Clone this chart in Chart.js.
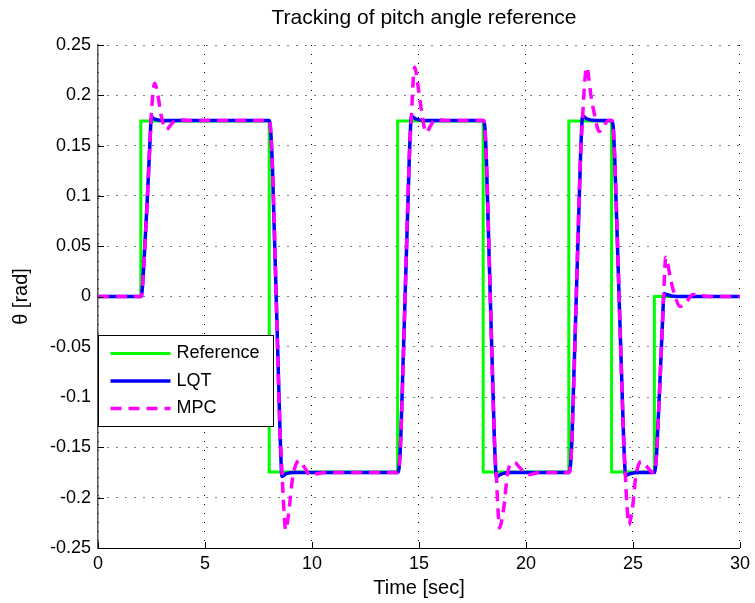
<!DOCTYPE html>
<html>
<head>
  <script src="https://cdn.jsdelivr.net/npm/chart.js"></script>
  <title>Tracking of pitch angle reference</title>
  <style>
    html, body { margin: 0; padding: 0; background: #fff; }
    #wrap { width: 755px; height: 603px; }
  </style>
</head>
<body>
<div id="wrap"><canvas id="pitchChart" width="755" height="603"></canvas></div>
<script>
// reference step command (rad)
const refTime  = [0, 2, 2, 8, 8, 14, 14, 18, 18, 22, 22, 24, 24, 26, 26, 30];
const refTheta = [0, 0, 0.1745, 0.1745, -0.1745, -0.1745, 0.1745, 0.1745, -0.1745, -0.1745, 0.1745, 0.1745, -0.1745, -0.1745, 0, 0];

// LQT response
const lqtTime  = [0, 2.0, 2.05, 2.15, 2.3, 2.42, 2.5, 2.58, 2.7, 3.0,
                  8.0, 8.05, 8.15, 8.5, 8.6, 8.68, 8.8, 9.2,
                  14.0, 14.07, 14.15, 14.55, 14.65, 14.75, 14.9, 15.3,
                  18.0, 18.07, 18.15, 18.52, 18.62, 18.72, 18.9, 19.3,
                  22.0, 22.07, 22.15, 22.55, 22.65, 22.75, 22.9, 23.3,
                  24.0, 24.07, 24.15, 24.56, 24.66, 24.76, 24.9, 25.3,
                  26.0, 26.05, 26.12, 26.38, 26.45, 26.55, 27.0, 30];
const lqtTheta = [0, 0, 0.003, 0.035, 0.095, 0.15, 0.179, 0.177, 0.176, 0.175,
                  0.175, 0.17, 0.13, -0.13, -0.179, -0.178, -0.176, -0.175,
                  -0.175, -0.17, -0.14, 0.14, 0.179, 0.178, 0.176, 0.175,
                  0.175, 0.17, 0.135, -0.14, -0.18, -0.178, -0.176, -0.175,
                  -0.175, -0.17, -0.14, 0.14, 0.18, 0.178, 0.176, 0.175,
                  0.175, 0.17, 0.135, -0.14, -0.178, -0.177, -0.176, -0.175,
                  -0.175, -0.17, -0.15, -0.025, 0.003, 0.002, 0, 0];

// MPC response
const mpcTime  = [0, 2.0, 2.05, 2.15, 2.3, 2.42, 2.52, 2.65, 2.8, 2.95, 3.2, 3.45, 3.75, 4.2,
                  8.0, 8.05, 8.15, 8.5, 8.6, 8.68, 8.77, 8.85, 8.95, 9.07, 9.2, 9.4, 9.65, 9.94, 10.3, 10.7,
                  14.0, 14.07, 14.15, 14.55, 14.65, 14.73, 14.8, 14.95, 15.1, 15.33, 15.55, 15.75, 16.2,
                  18.0, 18.07, 18.15, 18.52, 18.62, 18.7, 18.77, 18.87, 18.98, 19.13, 19.3, 19.47, 19.7, 20.17, 20.6,
                  22.0, 22.07, 22.15, 22.55, 22.65, 22.75, 22.85, 22.93, 23.02, 23.19, 23.42, 23.65, 23.85,
                  24.0, 24.07, 24.15, 24.56, 24.66, 24.73, 24.81, 24.9, 25.0, 25.1, 25.22, 25.38, 25.6, 25.85,
                  26.0, 26.05, 26.12, 26.38, 26.45, 26.53, 26.62, 26.75, 26.9, 27.2, 27.5, 27.8, 28.2, 28.6, 30];
const mpcTheta = [0, 0, 0.003, 0.035, 0.095, 0.15, 0.19, 0.212, 0.2, 0.18, 0.166, 0.172, 0.176, 0.175,
                  0.175, 0.17, 0.13, -0.13, -0.175, -0.21, -0.232, -0.225, -0.208, -0.184, -0.17, -0.163, -0.17, -0.178, -0.176, -0.175,
                  -0.175, -0.17, -0.14, 0.14, 0.18, 0.215, 0.228, 0.21, 0.187, 0.163, 0.17, 0.176, 0.175,
                  0.175, 0.17, 0.135, -0.14, -0.18, -0.215, -0.23, -0.222, -0.207, -0.177, -0.166, -0.165, -0.17, -0.177, -0.175,
                  -0.175, -0.17, -0.14, 0.14, 0.18, 0.215, 0.228, 0.218, 0.202, 0.182, 0.164, 0.17, 0.175,
                  0.175, 0.17, 0.135, -0.14, -0.185, -0.212, -0.227, -0.22, -0.206, -0.184, -0.17, -0.164, -0.168, -0.174,
                  -0.175, -0.17, -0.15, -0.025, 0.01, 0.039, 0.033, 0.018, 0.005, -0.01, -0.005, 0.002, 0.001, 0, 0];

const xTicks = [0, 5, 10, 15, 20, 25, 30];
const yTicks = [-0.25, -0.2, -0.15, -0.1, -0.05, 0, 0.05, 0.1, 0.15, 0.2, 0.25];
const yTickLabels = ['-0.25', '-0.2', '-0.15', '-0.1', '-0.05', '0', '0.05', '0.1', '0.15', '0.2', '0.25'];

const chartTitle = 'Tracking of pitch angle reference';
const FONT = 'Liberation Sans, Arial, Helvetica, sans-serif';

function pts(t, v) {
  return t.map((x, i) => ({ x: x, y: v[i] }));
}

// inward tick marks on the left and bottom axes, like matlab
const innerTicks = {
  id: 'innerTicks',
  afterDatasetsDraw(chart) {
    const { ctx, chartArea: a, scales: { x, y } } = chart;
    ctx.save();
    ctx.strokeStyle = '#000';
    ctx.lineWidth = 1;
    ctx.beginPath();
    xTicks.forEach(v => {
      const px = Math.round(x.getPixelForValue(v)) + 0.5;
      ctx.moveTo(px, a.bottom); ctx.lineTo(px, a.bottom - 6);
    });
    yTicks.forEach(v => {
      const py = Math.round(y.getPixelForValue(v)) + 0.5;
      ctx.moveTo(a.left, py); ctx.lineTo(a.left + 6, py);
    });
    ctx.stroke();
    ctx.restore();
  }
};

// title centred over the plot area, not the whole canvas
const plotTitle = {
  id: 'plotTitle',
  afterDraw(chart) {
    const { ctx, chartArea: a } = chart;
    ctx.save();
    ctx.fillStyle = '#000';
    ctx.font = '21px ' + FONT;
    ctx.textAlign = 'center';
    ctx.textBaseline = 'middle';
    ctx.fillText(chartTitle, (a.left + a.right) / 2 + 5, 18);
    ctx.restore();
  }
};

// legend box in the lower left of the plot
const boxLegend = {
  id: 'boxLegend',
  afterDraw(chart) {
    const { ctx, chartArea: a } = chart;
    const left = a.left + 0.5, top = 335.5, w = 175, h = 91;
    ctx.save();
    ctx.fillStyle = '#fff';
    ctx.fillRect(left, top, w, h);
    ctx.strokeStyle = '#000';
    ctx.lineWidth = 1;
    ctx.strokeRect(left, top, w, h);
    ctx.font = '18px ' + FONT;
    ctx.textBaseline = 'middle';
    chart.data.datasets.forEach((ds, i) => {
      const yy = top + 18 + i * 27.5;
      ctx.strokeStyle = ds.borderColor;
      ctx.lineWidth = ds.borderWidth;
      ctx.setLineDash(ds.borderDash || []);
      ctx.beginPath();
      ctx.moveTo(left + 12, yy);
      ctx.lineTo(left + 72, yy);
      ctx.stroke();
      ctx.setLineDash([]);
      ctx.fillStyle = '#000';
      ctx.fillText(ds.label, left + 78, yy);
    });
    ctx.restore();
  }
};

new Chart(document.getElementById('pitchChart'), {
  type: 'scatter',
  data: {
    datasets: [
      {
        label: 'Reference',
        data: pts(refTime, refTheta),
        showLine: true,
        borderColor: '#00ff00',
        borderWidth: 3,
        pointRadius: 0,
        tension: 0,
        order: 3
      },
      {
        label: 'LQT',
        data: pts(lqtTime, lqtTheta),
        showLine: true,
        borderColor: '#0000ff',
        borderWidth: 3.5,
        pointRadius: 0,
        cubicInterpolationMode: 'monotone',
        order: 2
      },
      {
        label: 'MPC',
        data: pts(mpcTime, mpcTheta),
        showLine: true,
        borderColor: '#ff00ff',
        borderWidth: 3.5,
        borderDash: [11, 7],
        pointRadius: 0,
        cubicInterpolationMode: 'monotone',
        order: 1
      }
    ]
  },
  options: {
    responsive: false,
    animation: false,
    devicePixelRatio: 1,
    layout: { padding: { left: 0, right: 12, top: 45, bottom: 0 } },
    plugins: {
      legend: { display: false },
      tooltip: { enabled: false },
      title: { display: false }
    },
    scales: {
      x: {
        type: 'linear',
        min: 0,
        max: 30,
        afterBuildTicks: s => { s.ticks = xTicks.map(v => ({ value: v })); },
        afterFit: s => { s.height = 55; },
        ticks: { color: '#000', padding: 5, font: { family: FONT, size: 18 } },
        grid: { color: '#000', drawTicks: false, lineWidth: 1 },
        border: { display: true, color: '#000', width: 1, dash: [1, 8] },
        title: {
          display: true,
          text: 'Time [sec]',
          color: '#000',
          font: { family: FONT, size: 20 },
          padding: { top: 0, bottom: 3 }
        }
      },
      y: {
        type: 'linear',
        min: -0.25,
        max: 0.25,
        afterBuildTicks: s => { s.ticks = yTicks.map(v => ({ value: v })); },
        afterFit: s => { s.width = 98; },
        ticks: {
          color: '#000',
          padding: 7,
          font: { family: FONT, size: 18 },
          callback: v => yTickLabels[yTicks.findIndex(t => Math.abs(t - v) < 1e-9)]
        },
        grid: { color: '#000', drawTicks: false, lineWidth: 1 },
        border: { display: true, color: '#555', width: 1.5, dash: [1, 8] },
        title: {
          display: true,
          text: 'θ [rad]',
          color: '#000',
          font: { family: FONT, size: 20 },
          padding: { top: 9, bottom: 0 }
        }
      }
    }
  },
  plugins: [innerTicks, plotTitle, boxLegend]
});
</script>
</body>
</html>
